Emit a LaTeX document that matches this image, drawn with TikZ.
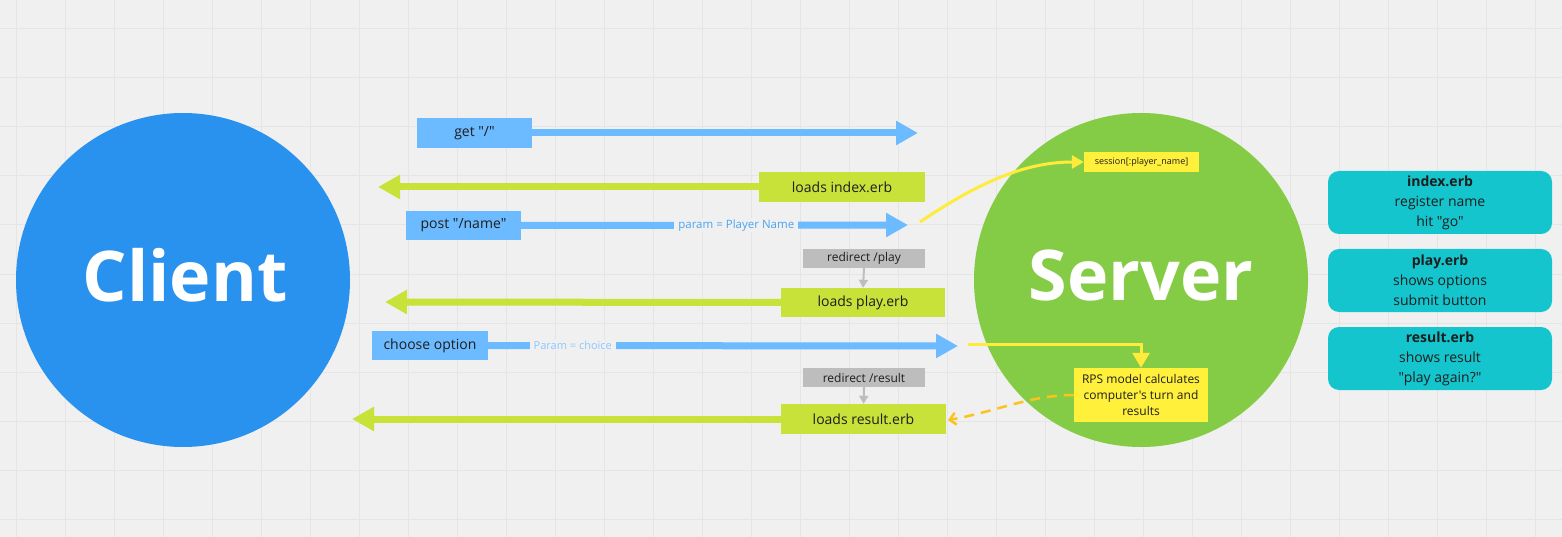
\documentclass[tikz,border=0pt]{standalone}
\usepackage{fontspec}
\setmainfont{Open Sans}[Ligatures=TeXOff]
\usetikzlibrary{arrows.meta}
\definecolor{bgc}{RGB}{240,240,240}
\definecolor{gridc}{RGB}{229,229,229}
\definecolor{clientc}{RGB}{41,145,238}
\definecolor{serverc}{RGB}{133,204,70}
\definecolor{reqc}{RGB}{108,186,255}
\definecolor{resc}{RGB}{200,226,58}
\definecolor{yelc}{RGB}{255,240,60}
\definecolor{yline}{RGB}{255,235,59}
\definecolor{oline}{RGB}{250,195,30}
\definecolor{grayc}{RGB}{189,189,189}
\definecolor{tealc}{RGB}{20,197,205}
\definecolor{txtc}{RGB}{30,30,30}
\definecolor{lbl1}{RGB}{74,163,240}
\definecolor{lbl2}{RGB}{140,200,255}
\tikzset{
  req/.style={fill=reqc, minimum width=115pt, minimum height=30pt, inner sep=0pt, text=txtc, font=\fontsize{14}{17}\selectfont},
  res/.style={fill=resc, minimum height=30pt, inner sep=0pt, text=txtc, font=\fontsize{14}{17}\selectfont},
  redir/.style={fill=grayc, minimum width=122pt, minimum height=19pt, inner sep=0pt, text=txtc, font=\fontsize{12}{14}\selectfont},
  teal/.style={fill=tealc, rounded corners=11pt, minimum width=224pt, minimum height=63pt, inner sep=0pt, align=center, text=txtc, font=\fontsize{14}{20}\selectfont},
  reqarrow/.style={draw=reqc, line width=7pt, -{Triangle[length=22pt,width=23pt]}},
  resarrow/.style={draw=resc, line width=7pt, -{Triangle[length=22pt,width=23pt]}},
  grayarrow/.style={draw=grayc, line width=2pt, -{Triangle[length=8pt,width=9pt]}},
  yarrow/.style={draw=yline, line width=3pt},
  lbl/.style={fill=bgc, inner xsep=4pt, inner ysep=1pt, font=\fontsize{11.5}{13}\selectfont},
  big/.style={text=white, font=\fontsize{70}{76}\selectfont\bfseries}
}
\begin{document}
\begin{tikzpicture}[x=1pt,y=-1pt]
\fill[bgc] (0,0) rectangle (1562,537);
\useasboundingbox (0,0) rectangle (1562,537);
\foreach \x in {16,65,...,1562} \draw[gridc, line width=1pt] (\x,0) -- (\x,537);
\foreach \y in {29,78,...,537} \draw[gridc, line width=1pt] (0,\y) -- (1562,\y);

% circles
\fill[clientc] (183,280) circle[radius=167];
\node[big] (client) at (185,275) {Client};
\fill[serverc] (1141,280) circle[radius=167];
\node[big] (server) at (1141,275) {Server};

% boxes
\node[req] (get) at (474.5,133) {get "/"};
\node[res, minimum width=166pt] (idx) at (842,187) {loads index.erb};
\node[req, minimum height=29pt] (post) at (463.5,225.5) {post "/name"};
\node[fill=yelc, minimum width=115pt, minimum height=20pt, inner sep=0pt, text=txtc, font=\fontsize{9}{11}\selectfont] (sess) at (1141.5,162) {session[:player\_name]};
\node[redir] (rplay) at (864,258.5) {redirect /play};
\node[res, minimum width=164pt, minimum height=29pt] (lplay) at (863,302.5) {loads play.erb};
\node[req, minimum width=116pt, minimum height=29pt] (choose) at (430,345.5) {choose option};
\node[redir] (rres) at (864,377.5) {redirect /result};
\node[res, minimum width=165pt] (lres) at (863.5,419) {loads result.erb};
\node[fill=yelc, minimum width=134pt, minimum height=54pt, inner sep=0pt, align=center, text=txtc, font=\fontsize{12}{16}\selectfont] (rps) at (1141,395) {RPS model calculates\\computer's turn and\\results};

\node[teal] (t1) at (1440,202.5) {\textbf{index.erb}\\register name\\hit "go"};
\node[teal] (t2) at (1440,280.5) {\textbf{play.erb}\\shows options\\submit button};
\node[teal] (t3) at (1440,358.5) {\textbf{result.erb}\\shows result\\"play again?"};

% free ends
\coordinate (getend) at (918,133);
\coordinate (idxend) at (378,187);
\coordinate (postend) at (908,225);
\coordinate (playend) at (385,302);
\coordinate (chend) at (958,346);
\coordinate (resend) at (352,419);
\coordinate (ystart) at (920,222);
\coordinate (y2start) at (968,344);
\coordinate (y2corner) at (1141,344);
\coordinate (dashend) at (948,420);

% arrows
\draw[reqarrow] (get.east) -- (getend);
\draw[resarrow] (idx.west) -- (idxend);
\draw[reqarrow] (post.east) -- node[lbl, text=lbl1, pos=0.556] (plbl) {param = Player Name} (postend);
\draw[resarrow] (lplay.west) -- (playend);
\draw[reqarrow] (choose.east) -- node[lbl, text=lbl2, pos=0.18, font=\fontsize{11}{12}\selectfont] (clbl) {Param = choice} (chend);
\draw[resarrow] (lres.west) -- (resend);
\draw[grayarrow] (rplay.south) -- (lplay.north);
\draw[grayarrow] (rres.south) -- (lres.north);

\draw[yarrow, -{Triangle[length=12pt,width=13pt]}] (ystart) .. controls (985,178) and (1030,162) .. (sess.west);
\draw[yarrow, -{Triangle[length=15pt,width=17pt]}] (y2start) -- (y2corner) -- (rps.north);
\draw[draw=oline, line width=2.5pt, dash pattern=on 10pt off 7pt, -{Straight Barb[length=6pt,width=12pt]}] (rps.west) .. controls (1030,395) and (995,412) .. (dashend);
\end{tikzpicture}
\end{document}
